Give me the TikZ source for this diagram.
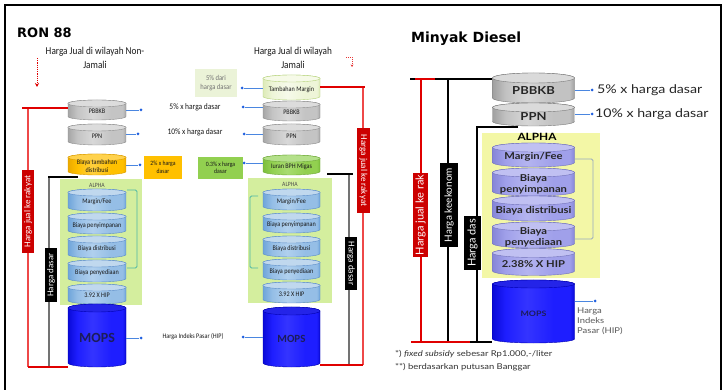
\documentclass[tikz,border=0pt]{standalone}
\usepackage{fontspec}
\setmainfont{Carlito}
\newfontfamily\lcond[FakeStretch=0.88]{Carlito}
\newfontfamily\lplain{Carlito}
\newfontfamily\dsf[FakeStretch=1.18]{Lato}
\newfontfamily\dplain{Lato}
\newfontfamily\headf{DejaVu Sans}
\usetikzlibrary{arrows.meta}

% cylinder colour schemes: S side, H highlight, E edge, T top, L outline
\definecolor{grayS}{HTML}{C4C4C4}\definecolor{grayH}{HTML}{D8D8D8}\definecolor{grayE}{HTML}{A6A6A6}\definecolor{grayT}{HTML}{DCDCDC}\definecolor{grayL}{HTML}{8C8C8C}
\definecolor{dgrayS}{HTML}{C2C2C2}\definecolor{dgrayH}{HTML}{D6D6D6}\definecolor{dgrayE}{HTML}{A0A0A0}\definecolor{dgrayT}{HTML}{DADADA}\definecolor{dgrayL}{HTML}{7A7A7A}
\definecolor{orngS}{HTML}{FFC000}\definecolor{orngH}{HTML}{FFD040}\definecolor{orngE}{HTML}{EBAA00}\definecolor{orngT}{HTML}{FFD24D}\definecolor{orngL}{HTML}{D99A00}
\definecolor{limeS}{HTML}{92D050}\definecolor{limeH}{HTML}{A8DC70}\definecolor{limeE}{HTML}{7DBE3C}\definecolor{limeT}{HTML}{B4E08A}\definecolor{limeL}{HTML}{6FA83A}
\definecolor{paleS}{HTML}{EEF5D8}\definecolor{paleH}{HTML}{F6FAEA}\definecolor{paleE}{HTML}{DDEBB8}\definecolor{paleT}{HTML}{F6FAE8}\definecolor{paleL}{HTML}{B5D27A}
\definecolor{lblueS}{HTML}{95BEE6}\definecolor{lblueH}{HTML}{B0D0EE}\definecolor{lblueE}{HTML}{6FA5DA}\definecolor{lblueT}{HTML}{C0D8EE}\definecolor{lblueL}{HTML}{5A8CC8}
\definecolor{mopsS}{HTML}{1E1EFF}\definecolor{mopsH}{HTML}{3434FF}\definecolor{mopsE}{HTML}{0A0AD8}\definecolor{mopsT}{HTML}{2424E8}\definecolor{mopsL}{HTML}{0000B0}
\definecolor{lavS}{HTML}{A0A0EA}\definecolor{lavH}{HTML}{B4B4F0}\definecolor{lavE}{HTML}{8686D8}\definecolor{lavT}{HTML}{C0C0F2}\definecolor{lavL}{HTML}{7070B8}
% other colours
\definecolor{alphaG}{HTML}{D4EE9E}
\definecolor{alphaY}{HTML}{F3F7A6}
\definecolor{tagred}{HTML}{CC0000}
\definecolor{hred}{HTML}{E00000}
\definecolor{vred}{HTML}{EE4848}
\definecolor{connblue}{HTML}{4A86E0}
\definecolor{dotblue}{HTML}{2060E0}
\definecolor{mopstext}{HTML}{1C1C5A}
\definecolor{brkG}{HTML}{4DB8A6}
\definecolor{brkB}{HTML}{98A8C0}
\definecolor{boxO}{HTML}{FFC000}
\definecolor{boxG}{HTML}{92D050}
\definecolor{boxP}{HTML}{EBF3D8}

% horizontal shading across a cylinder body (edges darker, lit centre)
\newcommand\cylshade[1]{%
  \pgfdeclarehorizontalshading{cyl#1}{100bp}{color(0bp)=(#1E); color(25bp)=(#1E);
    color(33bp)=(#1S); color(46bp)=(#1H); color(62bp)=(#1S); color(72bp)=(#1S);
    color(75bp)=(#1E); color(100bp)=(#1E)}}
\cylshade{gray}\cylshade{dgray}\cylshade{orng}\cylshade{lime}\cylshade{pale}
\cylshade{lblue}\cylshade{mops}\cylshade{lav}

% \drum{name}{cx}{cy}{width}{height}{ellipse ry}{scheme}{text style}{label}
\newcommand\drum[9]{%
  \pgfmathsetmacro\dxl{#2-#4/2}%
  \pgfmathsetmacro\dxr{#2+#4/2}%
  \pgfmathsetmacro\dyt{#3-#5/2+#6}%
  \pgfmathsetmacro\dyb{#3+#5/2-#6}%
  \pgfmathsetmacro\drx{#4/2}%
  \pgfmathsetmacro\dyc{#3+#6/2}%
  \path[draw=#7L, line width=0.4pt, shade, shading=cyl#7]
    (\dxl,\dyt) -- (\dxl,\dyb)
    arc[start angle=180, end angle=360, x radius=\drx pt, y radius=#6pt]
    -- (\dxr,\dyt)
    arc[start angle=0, end angle=180, x radius=\drx pt, y radius=#6pt] -- cycle;
  \path[draw=#7L, line width=0.4pt, fill=#7T] (#2,\dyt) ellipse[x radius=\drx pt, y radius=#6pt];
  \node[#8, minimum width=#4pt, minimum height=#5pt, inner sep=0pt] (#1) at (#2,\dyc) {#9};
}

\begin{document}
\begin{tikzpicture}[x=1pt,y=-1pt,
  lcyl/.style={font=\lcond\fontsize{7}{8}\selectfont, text=black!90, align=center},
  lmopsf/.style={font=\lplain\bfseries\fontsize{14}{16}\selectfont, text=mopstext},
  rmopsf/.style={font=\lplain\bfseries\fontsize{11}{13}\selectfont, text=mopstext},
  dcyl/.style={font=\dsf\bfseries\fontsize{9.5}{11}\selectfont, text=black!85, align=center},
  dcylb/.style={font=\dsf\bfseries\fontsize{11}{13}\selectfont, text=black!85},
  dmopsf/.style={font=\dsf\bfseries\fontsize{7.5}{9}\selectfont, text=mopstext},
  ltxt/.style={font=\lcond\fontsize{8.5}{10}\selectfont, text=black!90, inner sep=0pt},
  lhead/.style={font=\lcond\fontsize{10.5}{14}\selectfont, text=black!90, align=center, inner sep=0pt},
  dtxt/.style={font=\dsf\fontsize{12}{14}\selectfont, text=black!85, inner sep=0pt, anchor=west},
  note/.style={font=\dsf\fontsize{8}{10}\selectfont, text=black!80, inner sep=0pt, anchor=west},
  smallbox/.style={inner sep=0pt, align=center, font=\lcond\fontsize{6.5}{7.5}\selectfont, text=black!90},
  dot/.style={circle, fill=dotblue, inner sep=0pt, minimum size=3pt},
  conn/.style={draw=connblue, line width=0.6pt},
  ltag/.style={inner sep=0pt, text=white, font=\lplain\fontsize{9}{10}\selectfont},
  dtag/.style={inner sep=0pt, text=white, font=\dplain\fontsize{11}{12}\selectfont},
  hredl/.style={draw=hred, line width=1.4pt},
  vredl/.style={draw=vred, line width=1.4pt},
  grayl/.style={draw=black!55, line width=1.4pt},
  blackl/.style={draw=black, line width=1.4pt},
  dred/.style={draw=hred, line width=1.5pt},
  dblack/.style={draw=black, line width=1.5pt},
  brk/.style={line width=0.9pt, rounded corners=1.5pt}
]
\useasboundingbox (0,0) rectangle (726,390);
\fill[white] (0,0) rectangle (726,390);

% outer frame
\coordinate (f1) at (5,390);
\coordinate (f2) at (5,5);
\coordinate (f3) at (721,5);
\coordinate (f4) at (721,390);
\draw[line width=2pt] (f1) -- (f2) -- (f3) -- (f4);

% ---------------- RON 88 ----------------
\node[anchor=west, inner sep=0pt, font=\headf\bfseries\fontsize{13}{15}\selectfont] (ron) at (17,33) {RON 88};
\node[lhead] (hnj) at (95,58) {Harga Jual  di wilayah Non-\\Jamali};
\node[lhead] (hj) at (293,58) {Harga Jual  di wilayah\\Jamali};

\coordinate (la1) at (37,58);
\coordinate (la2) at (37,87);
\draw[draw=hred, line width=1pt, dash pattern=on 1.2pt off 1pt, -{Stealth[length=4pt,width=4pt]}] (la1) -- (la2);
\coordinate (ra1) at (346,57);
\coordinate (ra2) at (352,57);
\coordinate (ra3) at (352,67);
\draw[draw=hred!80, line width=0.6pt, dash pattern=on 1.2pt off 0.8pt, -{Stealth[length=2.5pt,width=2.5pt]}] (ra1) -- (ra2) -- (ra3);

% ALPHA panels
\fill[alphaG] (60,179) rectangle (142,305);
\node[font=\lcond\fontsize{6.5}{7}\selectfont, text=black!70, inner sep=0pt] (alA) at (97,185) {ALPHA};
\fill[alphaG] (248,178) rectangle (332,303);
\node[font=\lcond\fontsize{6.5}{7}\selectfont, text=black!70, inner sep=0pt] (alB) at (290,184) {ALPHA};

% brackets
\coordinate (lb1) at (127,190); \coordinate (lb2) at (137,190);
\coordinate (lb3) at (137,268); \coordinate (lb4) at (127,268);
\draw[brk, brkG] (lb1) -- (lb2) -- (lb3) -- (lb4);
\coordinate (rb1) at (258,196); \coordinate (rb2) at (250,196);
\coordinate (rb3) at (250,268); \coordinate (rb4) at (258,268);
\draw[brk, brkG] (rb1) -- (rb2) -- (rb3) -- (rb4);

% left column
\drum{lpbbkb}{97}{110}{58}{20}{3.5}{gray}{lcyl}{PBBKB}
\drum{lppn}{97}{134.5}{58}{21}{3.5}{gray}{lcyl}{PPN}
\drum{lbtd}{97}{164.5}{58}{21}{3.5}{orng}{lcyl}{Biaya tambahan\\distribusi}
\drum{lmar}{97}{200}{58}{22}{3.5}{lblue}{lcyl}{Margin/Fee}
\drum{lsim}{97}{223.5}{58}{21}{3.5}{lblue}{lcyl}{Biaya penyimpanan}
\drum{ldis}{97}{247}{58}{22}{3.5}{lblue}{lcyl}{Biaya distribusi}
\drum{lsed}{97}{271}{58}{22}{3.5}{lblue}{lcyl}{Biaya penyediaan}
\drum{lhip}{97}{294}{58}{20}{3.5}{lblue}{lcyl}{3.92 X HIP}
\drum{lmops}{97}{335.5}{58}{63}{4}{mops}{lmopsf}{MOPS}

% right column
\drum{rtm}{291.5}{87.5}{57}{25}{3.5}{pale}{lcyl}{Tambahan Margin}
\drum{rpbbkb}{291.5}{111}{57}{20}{3.5}{gray}{lcyl}{PBBKB}
\drum{rppn}{291.5}{134.5}{57}{21}{3.5}{gray}{lcyl}{PPN}
\drum{riuran}{291.5}{165}{57}{20}{3.5}{lime}{lcyl}{Iuran BPH Migas}
\drum{rmar}{291.5}{199.5}{57}{21}{3.5}{lblue}{lcyl}{Margin/Fee}
\drum{rsim}{291.5}{223}{57}{20}{3.5}{lblue}{lcyl}{Biaya penyimpanan}
\drum{rdis}{291.5}{246.5}{57}{21}{3.5}{lblue}{lcyl}{Biaya distribusi}
\drum{rsed}{291.5}{269.5}{57}{21}{3.5}{lblue}{lcyl}{Biaya penyediaan}
\drum{rhip}{291.5}{292.5}{57}{21}{3.5}{lblue}{lcyl}{3.92 X HIP}
\drum{rmops}{291.5}{337}{57}{60}{4}{mops}{rmopsf}{MOPS}

% left price lines
\coordinate (lrA) at (22,108);
\coordinate (lrT) at (28,108);
\coordinate (lrB) at (28,367);
\coordinate (lgA) at (48,177);
\coordinate (lgE) at (78,177);
\coordinate (lgT) at (49,177);
\coordinate (lgB) at (49,367);
\draw[grayl] (lgT) -- (lgB);
\draw[blackl] (lgA) -- (lgE);
\draw[vredl] (lrT) -- (lrB);
\draw[hredl] (lrA) -- (lrA -| lpbbkb.west);
\draw[hredl] (lrB) -- (lrB -| lmops.west);
\node[ltag, fill=tagred, rotate=90, minimum width=83pt, minimum height=12pt] (ltr) at (28,211.5) {Harga jual ke rakyat};
\node[ltag, fill=black, rotate=90, minimum width=54pt, minimum height=12pt] (ltd) at (51,275) {Harga dasar};

% right price lines
\coordinate (rrA) at (365,87);
\coordinate (rrT) at (363,87);
\coordinate (rrB) at (363,365);
\coordinate (rgA) at (327,174);
\coordinate (rgE) at (353,174);
\coordinate (rgT) at (349,174);
\coordinate (rgB) at (349,365);
\draw[grayl] (rgT) -- (rgB);
\draw[blackl] (rgA) -- (rgE);
\draw[vredl] (rrT) -- (rrB);
\draw[hredl] (rtm.east |- rrA) -- (rrA);
\draw[hredl] (rmops.east |- rrB) -- (rrB);
\node[ltag, fill=tagred, rotate=-90, minimum width=85pt, minimum height=13pt] (rtr) at (363.5,170.5) {Harga jual ke rakyat};
\node[ltag, fill=black, rotate=-90, minimum width=53pt, minimum height=12pt] (rtd) at (351,263.5) {Harga dasar};

% middle labels and connectors
\node[ltxt] (t5) at (195,107) {5\% x harga dasar};
\node[ltxt] (t10) at (195,132) {10\% x harga dasar};
\node[ltxt, font=\lcond\fontsize{7}{8}\selectfont] (thip) at (193,337) {Harga Indeks Pasar (HIP)};
\node[smallbox, fill=boxO, minimum width=38pt, minimum height=23pt] (bo) at (163,167.5) {2\% x harga\\dasar};
\node[smallbox, fill=boxG, minimum width=45pt, minimum height=22pt] (bg) at (220.5,168) {0.3\% x harga\\dasar};
\node[smallbox, fill=boxP, text=black!55, font=\lcond\fontsize{7.5}{9}\selectfont, minimum width=42pt, minimum height=28pt] (bp) at (216,83) {5\% dari\\harga dasar};

\node[dot] (ld1) at (141,110) {};
\node[dot] (ld2) at (138,134) {};
\node[dot] (ld3) at (140,165) {};
\node[dot] (ld4) at (141,338) {};
\draw[conn] (lpbbkb.east |- ld1) -- (ld1);
\draw[conn] (lppn.east |- ld2) -- (ld2);
\draw[conn] (lbtd.east |- ld3) -- (ld3);
\draw[conn] (lmops.east |- ld4) -- (ld4);

\node[dot] (rd0) at (242,88) {};
\node[dot] (rd1) at (243,107) {};
\node[dot] (rd2) at (244,134) {};
\node[dot] (rd3) at (244,163) {};
\node[dot] (rd4) at (243,337) {};
\draw[conn] (rd0) -- (rd0 -| rtm.west);
\draw[conn] (rd1) -- (rd1 -| rpbbkb.west);
\draw[conn] (rd2) -- (rd2 -| rppn.west);
\draw[conn] (rd3) -- (rd3 -| riuran.west);
\draw[conn] (rd4) -- (rd4 -| rmops.west);

% ---------------- Minyak Diesel ----------------
\node[anchor=west, inner sep=0pt, font=\headf\bfseries\fontsize{14}{16}\selectfont] (md) at (411,39) {Minyak Diesel};

\fill[alphaY] (482,133) rectangle (600,278);
\coordinate (db1) at (575,159); \coordinate (db2) at (593,159);
\coordinate (db3) at (593,239); \coordinate (db4) at (575,239);
\draw[brk, brkB] (db1) -- (db2) -- (db3) -- (db4);

\drum{dpbbkb}{533.5}{88}{82}{30}{5}{dgray}{dcylb}{PBBKB}
\drum{dppn}{533.5}{114.5}{82}{23}{4.5}{dgray}{dcylb}{PPN}
\drum{dmar}{533.5}{155}{82}{24}{4.5}{lav}{dcyl}{Margin/Fee}
\drum{dsim}{533.5}{182}{82}{28}{4.5}{lav}{dcyl}{Biaya\\penyimpanan}
\drum{ddis}{533.5}{208.5}{82}{25}{4.5}{lav}{dcyl}{Biaya distribusi}
\drum{dsed}{533.5}{235}{82}{26}{4.5}{lav}{dcyl}{Biaya\\penyediaan}
\drum{dhip}{533.5}{262}{82}{27}{4.5}{lav}{dcyl}{2.38\% X HIP}
\drum{dmops}{533.5}{311.5}{82}{63}{4}{mops}{dmopsf}{MOPS}
\node[font=\dsf\bfseries\fontsize{10}{11}\selectfont, inner sep=0pt] (dal) at (537,137) {ALPHA};

% diesel price lines
\coordinate (dtA) at (410,79);
\coordinate (dtR1) at (415,79);
\coordinate (dtR2) at (435,79);
\coordinate (dv1T) at (421,79);
\coordinate (dv1B) at (421,342);
\coordinate (dv2T) at (448,79);
\coordinate (dv2B) at (448,342);
\coordinate (dv3T) at (477,127);
\coordinate (dv3E) at (518,127);
\coordinate (dv3B) at (477,342);
\coordinate (dbA) at (411,342);
\coordinate (dbR) at (470,342);
\draw[dblack] (dv2T) -- (dv2B);
\draw[dblack] (dv3E) -- (dv3T) -- (dv3B);
\draw[dred] (dv1T) -- (dv1B);
\draw[dblack] (dtA) -- (dtA -| dpbbkb.west);
\draw[dred] (dtR1) -- (dtR2);
\draw[dblack] (dbA) -- (dbA -| dmops.west);
\draw[dred] (dbA) -- (dbR);
\node[dtag, fill=tagred, rotate=90, minimum width=84pt, minimum height=15pt] (dtr) at (420.5,215) {Harga jual ke rak};
\node[dtag, fill=black, rotate=90, minimum width=84pt, minimum height=18pt, font=\dplain\fontsize{10}{12}\selectfont] (dte) at (449,205) {Harga keekonom};
\node[dtag, fill=black, rotate=90, minimum width=54pt, minimum height=17pt] (dtd) at (472.5,243) {Harga das};

% diesel connectors and notes
\node[dot] (dd1) at (592,90) {};
\node[dot] (dd2) at (592,114) {};
\node[dot] (dd3) at (595,301) {};
\draw[conn] (dpbbkb.east |- dd1) -- (dd1);
\draw[conn] (dppn.east |- dd2) -- (dd2);
\draw[conn] (dmops.east |- dd3) -- (dd3);
\node[dtxt] (d5) at (597,90) {5\% x harga dasar};
\node[dtxt] (d10) at (595,114) {10\% x harga dasar};
\node[note, align=left, text=black!65, font=\dsf\fontsize{8}{10}\selectfont] (dhipt) at (577,321) {Harga\\Indeks\\Pasar (HIP)};
\node[note] (n1) at (395,354) {*) \textit{fixed subsidy} sebesar Rp1.000,-/liter};
\node[note] (n2) at (395,367) {**) berdasarkan putusan Banggar};
\end{tikzpicture}
\end{document}
